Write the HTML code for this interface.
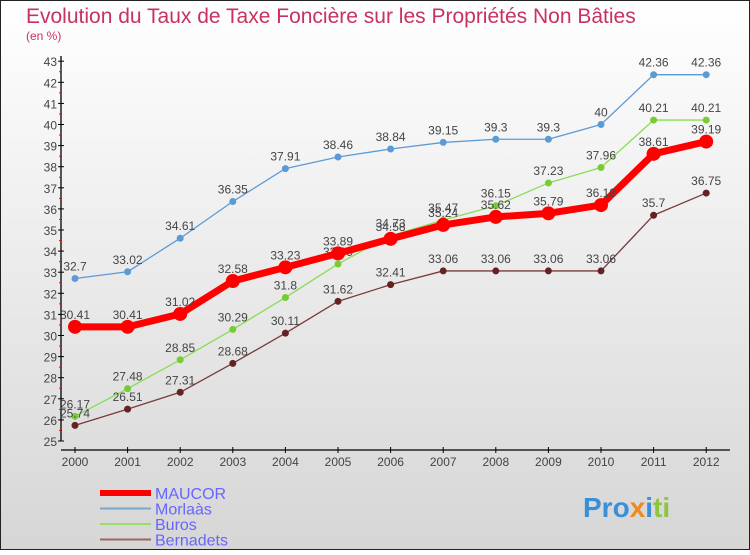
<!DOCTYPE html>
<html><head><meta charset="utf-8"><style>
html,body{margin:0;padding:0}
body{width:750px;height:550px;overflow:hidden;font-family:"Liberation Sans",sans-serif}
</style></head><body>
<svg id="c" width="750" height="550" xmlns="http://www.w3.org/2000/svg">
<defs><linearGradient id="bg" x1="0" y1="0" x2="0" y2="1"><stop offset="0" stop-color="#ffffff"/><stop offset="1" stop-color="#d6d6d6"/></linearGradient></defs>
<rect x="0.5" y="0.5" width="749" height="549" fill="url(#bg)" stroke="#222"/>
<text x="26" y="23" font-size="21" fill="#c8325e">Evolution du Taux de Taxe Foncière sur les Propriétés Non Bâties</text>
<text x="26" y="40" font-size="12" fill="#c8325e">(en %)</text>
<g id="axes"></g><g id="series"></g><g id="legend"></g>
<text x="583" y="517" font-size="28" font-weight="bold"><tspan fill="#3a8fd8">Pro</tspan><tspan fill="#f08a1c">x</tspan><tspan fill="#3a8fd8">i</tspan><tspan fill="#8cc63e">ti</tspan></text>
</svg>
<script>
const years=["2000","2001","2002","2003","2004","2005","2006","2007","2008","2009","2010","2011","2012"];
const maucor=[30.41,30.41,31.02,32.58,33.23,33.89,34.58,35.24,35.62,35.79,36.18,38.61,39.19];
const morlaas=[32.7,33.02,34.61,36.35,37.91,38.46,38.84,39.15,39.3,39.3,40,42.36,42.36];
const buros=[26.17,27.48,28.85,30.29,31.8,33.39,34.73,35.47,36.15,37.23,37.96,40.21,40.21];
const bernadets=[25.74,26.51,27.31,28.68,30.11,31.62,32.41,33.06,33.06,33.06,33.06,35.7,36.75];
const yTicks=[25,26,27,28,29,30,31,32,33,34,35,36,37,38,39,40,41,42,43];
const NS="http://www.w3.org/2000/svg";
const X=i=>75+i*52.6, Y=v=>441-(v-25)*21.1;
function mk(t,a,p){const e=document.createElementNS(NS,t);for(const k in a)e.setAttribute(k,a[k]);p.appendChild(e);return e;}
const ax=document.getElementById('axes');
let l=mk('line',{x1:61,y1:56,x2:61,y2:441,stroke:'#000','stroke-width':1.3},ax);


l=mk('line',{x1:61,y1:450,x2:730,y2:450,stroke:'#000','stroke-width':1.3},ax);


yTicks.forEach(v=>{
 mk('line',{x1:58,y1:Y(v),x2:64,y2:Y(v),stroke:'#000'},ax);
 if(v<43)mk('line',{x1:59,y1:Y(v+0.5),x2:61,y2:Y(v+0.5),stroke:'#f00'},ax);
 const t=mk('text',{x:57,y:Y(v)+5,'font-size':12,'text-anchor':'end',fill:'#444'},ax);t.textContent=v;
 
 
});
years.forEach((y,i)=>{
 mk('line',{x1:X(i),y1:447,x2:X(i),y2:453,stroke:'#000'},ax);
 const t=mk('text',{x:X(i),y:466,'font-size':12,'text-anchor':'middle',fill:'#444'},ax);t.textContent=y;
 
 
});
const S=[
 {n:'Morlaàs',d:morlaas,c:'#5b9bd5',w:1.3,r:3.5},
 {n:'Buros',d:buros,c:'#88dd55',w:1.3,r:3.5,fc:'#77cc33'},
 {n:'Bernadets',d:bernadets,c:'#7a3a3a',w:1.3,r:3.5,fc:'#662222'},
 {n:'MAUCOR',d:maucor,c:'#ff0000',w:7,r:7}
];
const sg=document.getElementById('series');
S.forEach(s=>{
 const g=mk('g',{},sg);
 
 
 const p=mk('polyline',{points:s.d.map((v,i)=>X(i)+','+Y(v)).join(' '),fill:'none',stroke:s.c,'stroke-width':s.w,'stroke-linejoin':'round'},g);
 
 
 s.d.forEach((v,i)=>{
  const c=mk('circle',{cx:X(i),cy:Y(v),r:s.r,fill:s.fc||s.c},g);
  
  
  const t=mk('text',{x:X(i),y:Y(v)-8,'font-size':12,'text-anchor':'middle',fill:'#444'},g);t.textContent=v;
  
  
 });
});
const lg=document.getElementById('legend');
const L=[['MAUCOR','#ff0000',6],['Morlaàs','#7aa8c8',2],['Buros','#99dd66',2],['Bernadets','#996666',2]];
L.forEach((e,i)=>{
 const y=493+i*15.5;
 const g=mk('g',{},lg);
 
 
 mk('line',{x1:100,y1:y,x2:151,y2:y,stroke:e[1],'stroke-width':e[2]},g);
 const t=mk('text',{x:155,y:y+6,'font-size':16,fill:'#6666ff'},g);t.textContent=e[0];
});
</script>
</body></html>
